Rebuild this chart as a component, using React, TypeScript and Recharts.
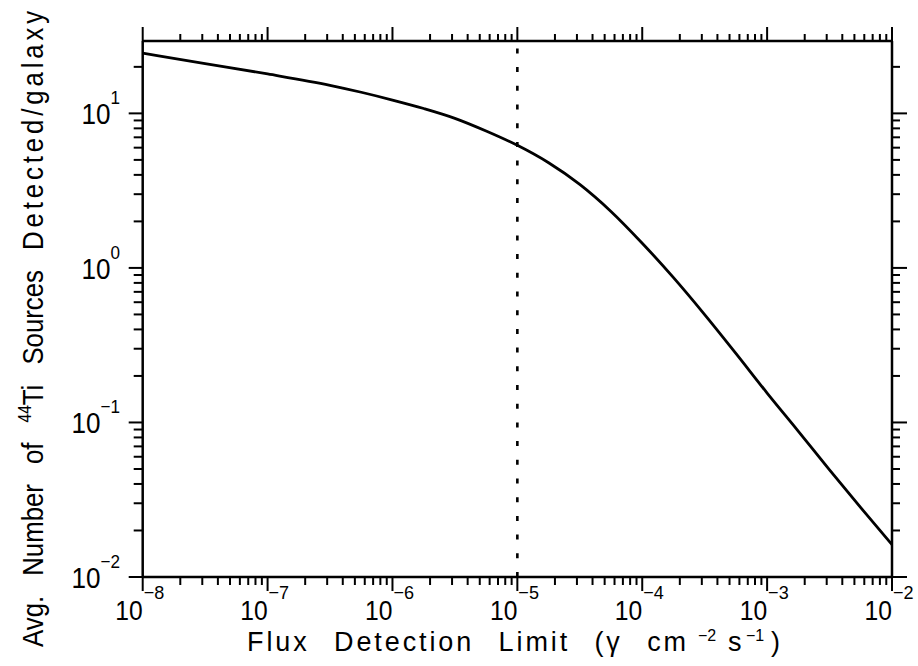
import { LineChart, Line, XAxis, YAxis, ReferenceLine } from 'recharts';

// flux detection limit (photons cm^-2 s^-1) and avg. number of 44Ti sources per galaxy
const flux = [
  1e-8, 3.16e-8, 1e-7, 3.16e-7, 5.62e-7, 1e-6, 1.78e-6, 3.16e-6, 5.62e-6, 1e-5,
  1.78e-5, 3.16e-5, 5.62e-5, 1e-4, 1.78e-4, 3.16e-4, 5.62e-4, 1e-3,
  1.78e-3, 3.16e-3, 5.62e-3, 1e-2,
];
const sources = [
  24.5, 21.0, 18.0, 15.2, 13.7, 12.2, 10.75, 9.29, 7.69, 6.21,
  4.79, 3.47, 2.32, 1.445, 0.865, 0.499, 0.28, 0.155,
  0.0877, 0.0493, 0.0281, 0.0162,
];

const xDecades = [-8, -7, -6, -5, -4, -3, -2];
const yDecades = [-2, -1, 0, 1];
const detectionLimit = 1e-5;

const data = flux.map((f, i) => ({ flux: f, n: sources[i] }));

// major + minor (2..9) ticks for a log axis
function logTicks(decades: number[], max: number) {
  const out: number[] = [];
  decades.forEach((d) => {
    for (let m = 1; m <= 9; m++) {
      const v = m * Math.pow(10, d);
      if (v <= max * 1.0001) out.push(v);
    }
  });
  return out;
}

const X_MIN = 1e-8;
const X_MAX = 1e-2;
const Y_MIN = 0.01;
const Y_MAX = 29.4;

const xTicks = logTicks(xDecades, X_MAX);
const yTicks = logTicks(yDecades, Y_MAX);

const FONT = '"Liberation Sans", Arial, Helvetica, sans-serif';
const INK = '#000';

function isMajor(v: number) {
  const lg = Math.log10(v);
  return Math.abs(lg - Math.round(lg)) < 1e-6;
}

function expLabel(v: number) {
  const e = Math.round(Math.log10(v));
  return e < 0 ? '\u2212' + Math.abs(e) : String(e);
}

function BottomTick(props: any) {
  const { x, y, payload } = props;
  const major = isMajor(payload.value);
  return (
    <g>
      <line x1={x} x2={x} y1={y} y2={y + (major ? 14 : 8)} stroke={INK} strokeWidth={2} />
      {major && (
        <g fontFamily={FONT} fill={INK}>
          <text transform={`translate(${x},${y + 43}) scale(0.88,1)`} textAnchor="end" fontSize={28}>
            10
          </text>
          <text transform={`translate(${x + 1},${y + 22}) scale(0.95,1)`} textAnchor="start" fontSize={19}>
            {expLabel(payload.value)}
          </text>
        </g>
      )}
    </g>
  );
}

function TopTick(props: any) {
  const { x, y, payload } = props;
  const major = isMajor(payload.value);
  return <line x1={x} x2={x} y1={y} y2={y - (major ? 14 : 7)} stroke={INK} strokeWidth={2} />;
}

function LeftTick(props: any) {
  const { x, y, payload } = props;
  const major = isMajor(payload.value);
  return (
    <g>
      <line x1={x} x2={x - (major ? 14 : 9)} y1={y} y2={y} stroke={INK} strokeWidth={2} />
      {major && (
        <text
          transform={`translate(120,${y + 11}) scale(0.9,1)`}
          textAnchor="end"
          fontFamily={FONT}
          fontSize={29}
          fill={INK}
        >
          10
          <tspan dy={-20} fontSize={19}>
            {expLabel(payload.value)}
          </tspan>
        </text>
      )}
    </g>
  );
}

function RightTick(props: any) {
  const { x, y, payload } = props;
  const major = isMajor(payload.value);
  return <line x1={x} x2={x + (major ? 15 : 8)} y1={y} y2={y} stroke={INK} strokeWidth={2} />;
}

const axisLine = { stroke: INK, strokeWidth: 2.5 };

export default function App() {
  return (
    <div style={{ position: 'fixed', left: 0, top: 0, width: 918, height: 666, background: '#fff' }}>
      <LineChart width={918} height={666} data={data} margin={{ top: 0, right: 0, bottom: 0, left: 0 }}>
        <XAxis
          dataKey="flux"
          type="number"
          scale="log"
          domain={[X_MIN, X_MAX]}
          allowDataOverflow
          ticks={xTicks}
          interval={0}
          height={89}
          tickSize={0}
          tickMargin={0}
          tickLine={false}
          axisLine={axisLine}
          tick={<BottomTick />}
        />
        <XAxis
          xAxisId="top"
          orientation="top"
          dataKey="flux"
          type="number"
          scale="log"
          domain={[X_MIN, X_MAX]}
          allowDataOverflow
          ticks={xTicks}
          interval={0}
          height={41}
          tickSize={0}
          tickMargin={0}
          tickLine={false}
          axisLine={axisLine}
          tick={<TopTick />}
        />
        <YAxis
          type="number"
          scale="log"
          domain={[Y_MIN, Y_MAX]}
          allowDataOverflow
          ticks={yTicks}
          interval={0}
          width={142.7}
          tickSize={0}
          tickMargin={0}
          tickLine={false}
          axisLine={axisLine}
          tick={<LeftTick />}
        />
        <YAxis
          yAxisId="right"
          orientation="right"
          type="number"
          scale="log"
          domain={[Y_MIN, Y_MAX]}
          allowDataOverflow
          ticks={yTicks}
          interval={0}
          width={26}
          tickSize={0}
          tickMargin={0}
          tickLine={false}
          axisLine={axisLine}
          tick={<RightTick />}
        />
        <ReferenceLine
          x={detectionLimit}
          stroke={INK}
          strokeWidth={2.6}
          strokeDasharray="5 13.7"
        />
        <Line
          type="monotone"
          dataKey="n"
          stroke={INK}
          strokeWidth={2.8}
          dot={false}
          isAnimationActive={false}
        />
      </LineChart>
      <svg
        width={918}
        height={666}
        style={{ position: 'absolute', left: 0, top: 0, pointerEvents: 'none' }}
      >
        <text
          transform="translate(43,647) rotate(-90) scale(0.86,1)"
          textAnchor="start"
          fontFamily={FONT}
          fontSize={30}
          wordSpacing={15}
          fill={INK}
        >
          Avg. Number of <tspan fontSize={18} dy={-12}>44</tspan>
          <tspan dy={12}>Ti Sources </tspan>
          <tspan letterSpacing={4.5}>Detected/galaxy</tspan>
        </text>
        <g fontFamily={FONT} fill={INK}>
          <text x={247} y={651} textAnchor="start" fontSize={27} letterSpacing={2.9} wordSpacing={14}>
            Flux Detection Limit (γ cm
          </text>
          <text x={698} y={641} fontSize={16}>{'\u2212'}2</text>
          <text x={728} y={651} fontSize={27}>s</text>
          <text x={746} y={641} fontSize={16}>{'\u2212'}1</text>
          <text x={771} y={651} fontSize={27}>)</text>
        </g>
      </svg>
    </div>
  );
}
